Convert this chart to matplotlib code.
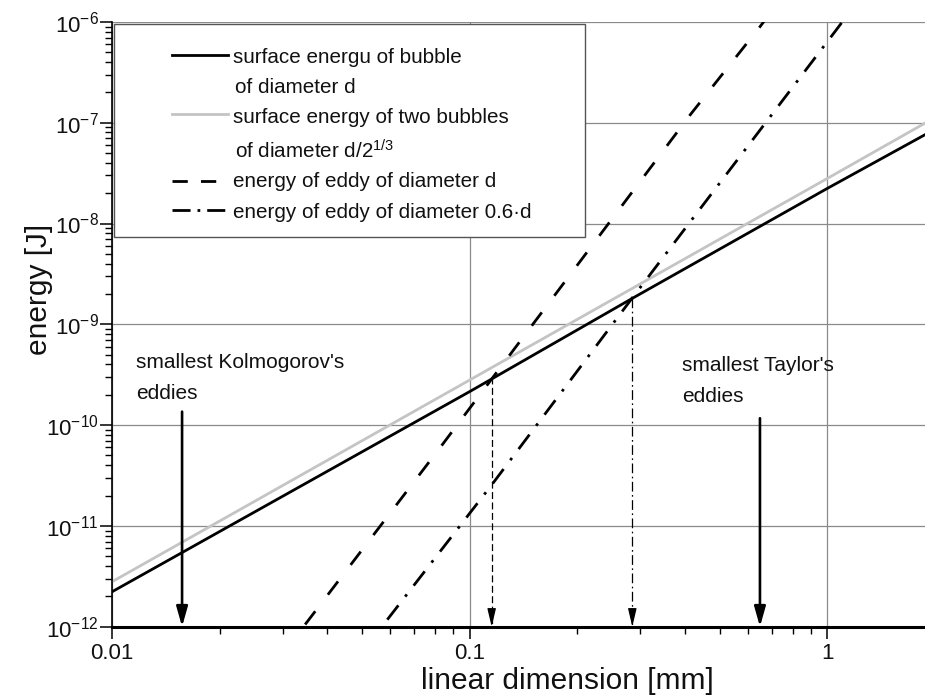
import matplotlib
matplotlib.use('Agg')
import matplotlib.pyplot as plt
import numpy as np
from matplotlib.ticker import LogLocator, FuncFormatter, NullFormatter
from matplotlib.patches import Rectangle
from matplotlib.lines import Line2D

plt.rcParams['font.family'] = ['Liberation Sans', 'DejaVu Sans']
plt.rcParams['mathtext.fontset'] = 'custom'
plt.rcParams['mathtext.rm'] = 'Liberation Sans'
plt.rcParams['mathtext.it'] = 'Liberation Sans:italic'
plt.rcParams['mathtext.bf'] = 'Liberation Sans:bold'
plt.rcParams['mathtext.default'] = 'regular'
plt.rcParams['lines.scale_dashes'] = False

# ---------------- data ----------------
# surface energy of one bubble of diameter d
d_bubble = [0.01, 0.1, 0.285, 1.0, 1.875]
E_bubble = [2.22e-12, 2.15e-10, 1.81e-9, 2.23e-8, 7.6e-8]
# surface energy of two bubbles of diameter d/2^(1/3)
d_two = [0.01, 0.1, 1.0, 1.875]
E_two = [2.79e-12, 2.8e-10, 2.8e-8, 9.9e-8]
# energy of eddy of diameter d
d_eddy = [0.030, 0.0343, 0.0833, 0.173, 0.413, 0.648, 0.75]
E_eddy = [5.3e-13, 1.0e-12, 6.2e-11, 1.95e-9, 1.19e-7, 8.95e-7, 1.8e-6]
# energy of eddy of diameter 0.6 d
d_eddy06 = [0.050, 0.0573, 0.1152, 0.2866, 1.05, 1.2]
E_eddy06 = [5.3e-13, 1.04e-12, 2.55e-11, 1.88e-9, 8.0e-7, 1.5e-6]

# intersection drop lines
drop_d = [0.1152, 0.2849]
drop_top = [3.02e-10, 1.81e-9]
drop_dashes = [(5, 2.5), (7, 2.5, 1.2, 2.5)]

# scale arrows
arrow_d = [0.0157, 0.648]
arrow_top = [1.36e-10, 1.17e-10]
arrow_text_x = [0.01167, 0.392]
arrow_text_lines = [["smallest Kolmogorov's", "eddies"], ["smallest Taylor's", "eddies"]]
arrow_text_y = [[3.68e-10, 1.81e-10], [3.44e-10, 1.69e-10]]

legend_labels = ["surface energu of bubble", "of diameter d",
                 "surface energy of two bubbles", r"of diameter d/2$^{1/3}$",
                 "energy of eddy of diameter d", "energy of eddy of diameter 0.6\u00b7d"]

x_ticks_label = lambda v, p: f'{v:g}'
y_ticks_label = lambda v, p: r'$10^{%d}$' % int(round(np.log10(v)))

xlim = (0.01, 1.875)
ylim = (1e-12, 1e-6)

# ---------------- figure ----------------
W, H = 925, 699
fig = plt.figure(figsize=(W / 100, H / 100), dpi=100)
ax = fig.add_axes([112 / W, (H - 626.7) / H, (W - 112) / W, 604.8 / H])
ax.set_xscale('log')
ax.set_yscale('log')
ax.set_xlim(*xlim)
ax.set_ylim(*ylim)

lw = 2.0
ax.plot(d_two, E_two, color='#c4c4c4', lw=lw, zorder=3)
ax.plot(d_bubble, E_bubble, color='black', lw=lw, zorder=4)
ax.plot(d_eddy, E_eddy, color='black', lw=lw, dashes=(12, 15), zorder=4)
ax.plot(d_eddy06, E_eddy06, color='black', lw=lw, dashes=(13, 8, 2, 8), zorder=4)

for d, top, ds in zip(drop_d, drop_top, drop_dashes):
    ax.plot([d, d], [top, ylim[0]], color='black', lw=0.9, dashes=ds, zorder=4)
    ax.annotate('', xy=(d, ylim[0]), xytext=(0, 12), textcoords='offset points',
                arrowprops=dict(arrowstyle='-|>,head_length=11,head_width=2.6',
                                mutation_scale=1, lw=0.9, color='black',
                                shrinkA=0, shrinkB=0), zorder=5)

for d, top in zip(arrow_d, arrow_top):
    ax.annotate('', xy=(d, ylim[0]), xytext=(d, top),
                arrowprops=dict(arrowstyle='-|>,head_length=12,head_width=3.4',
                                mutation_scale=1, lw=1.9, color='black',
                                shrinkA=0, shrinkB=0), zorder=5)

for tx, lines, tys in zip(arrow_text_x, arrow_text_lines, arrow_text_y):
    for line, ty in zip(lines, tys):
        ax.text(tx, ty, line, fontsize=15, va='baseline', ha='left', color='#111111')

# ticks
ax.xaxis.set_major_locator(LogLocator(base=10, numticks=20))
ax.xaxis.set_minor_locator(LogLocator(base=10, subs=np.arange(2, 10), numticks=20))
ax.xaxis.set_major_formatter(FuncFormatter(x_ticks_label))
ax.xaxis.set_minor_formatter(NullFormatter())
ax.yaxis.set_major_locator(LogLocator(base=10, numticks=20))
ax.yaxis.set_minor_locator(LogLocator(base=10, subs=np.arange(2, 10), numticks=20))
ax.yaxis.set_major_formatter(FuncFormatter(y_ticks_label))
ax.yaxis.set_minor_formatter(NullFormatter())
ax.tick_params(which='major', direction='out', length=8.5, width=1.1, labelsize=16,
               color='black', labelcolor='#111111')
ax.tick_params(which='minor', direction='out', length=4.7, width=1.0, color='black')
ax.tick_params(axis='x', which='major', pad=3)
ax.tick_params(axis='y', which='major', pad=1)

ax.grid(True, which='major', color='#8a8a8a', lw=0.9)
ax.set_axisbelow(True)

for s in ['top', 'right']:
    ax.spines[s].set_visible(False)
ax.spines['left'].set_linewidth(1.2)
ax.spines['bottom'].set_linewidth(2.2)
ax.spines['bottom'].set_zorder(6)
ax.spines['left'].set_zorder(6)

ax.set_xlabel('linear dimension [mm]', fontsize=21.5, color='#111111')
ax.xaxis.set_label_coords(0.5603, -0.0895)
ax.xaxis.label.set_va('center')
ax.set_ylabel('energy [J]', fontsize=21.5, color='#111111')
ax.yaxis.set_label_coords(-0.0898, 0.557)
ax.yaxis.label.set_va('center')

# ---------------- legend box (drawn manually, Origin-style) ----------------
def F(px, py):
    return (px / W, 1 - py / H)

fig.add_artist(Rectangle(F(114, 236.7), (585 - 114) / W, (236.7 - 24) / H,
                         transform=fig.transFigure, facecolor='white',
                         edgecolor='#555555', lw=1.0, zorder=5))
handle_rows = [55, 114, 180.7, 210]
handle_styles = [dict(color='black'), dict(color='#c4c4c4'),
                 dict(color='black', dashes=(11, 9.5)),
                 dict(color='black', dashes=(13, 5, 2, 5))]
for hy, st in zip(handle_rows, handle_styles):
    x0, y0 = F(171.7, hy)
    x1, _ = F(227.7, hy)
    fig.add_artist(Line2D([x0, x1], [y0, y0], transform=fig.transFigure, lw=lw,
                          zorder=6, **st))
text_x = [233.3, 235, 233.3, 235, 233.3, 233.3]
text_base = [63.3, 93.3, 122.7, 158.3, 186.7, 218.3]
for lab, txp, tb in zip(legend_labels, text_x, text_base):
    fx, fy = F(txp, tb)
    fig.text(fx, fy, lab, fontsize=14.9, va='baseline', ha='left', color='#111111',
             zorder=7)

fig.savefig('out.png', dpi=100)
